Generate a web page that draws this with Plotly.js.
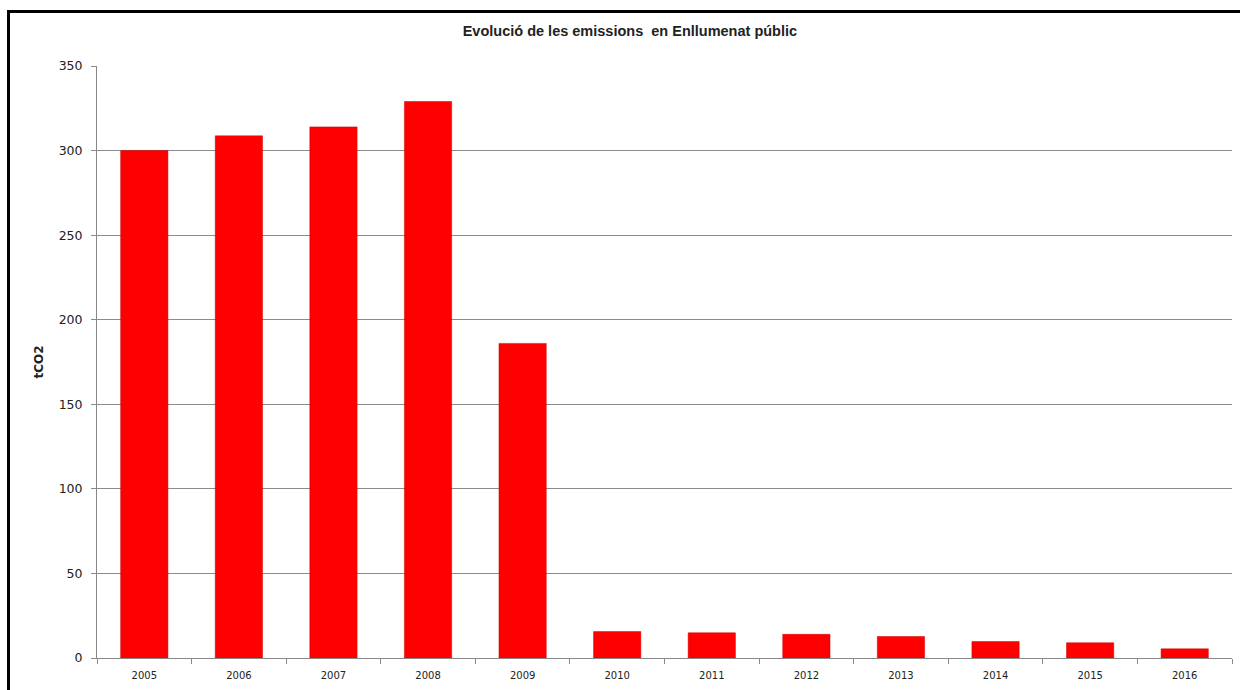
<!DOCTYPE html>
<html>
<head>
<meta charset="utf-8">
<script src="https://cdn.plot.ly/plotly-3.0.1.min.js"></script>
<style>
html,body{margin:0;padding:0;background:#fff;}
#wrap{position:relative;width:1240px;height:690px;overflow:hidden;}
#chart{position:absolute;left:0;top:0;width:1240px;height:690px;}
#frame{position:absolute;left:7px;top:10px;width:1300px;height:800px;border-top:3px solid #000;border-left:3px solid #000;pointer-events:none;}
</style>
</head>
<body>
<div id="wrap"><div id="chart"></div><div id="frame"></div></div>
<script>
const years = ["2005","2006","2007","2008","2009","2010","2011","2012","2013","2014","2015","2016"];
const emissions = [300, 308.7, 314, 329, 186, 15.6, 14.9, 14.0, 12.7, 9.7, 9.0, 5.4];
const yTicks = [0, 50, 100, 150, 200, 250, 300, 350];

const trace = {
  type: "bar",
  x: years,
  y: emissions,
  marker: {color: "#ff0000", line: {color: "#d00000", width: 0.5}},
  hoverinfo: "x+y"
};

const layout = {
  width: 1240, height: 690,
  margin: {l: 97, r: 8, t: 66, b: 31.5, pad: 0},
  paper_bgcolor: "#ffffff",
  plot_bgcolor: "#ffffff",
  bargap: 0.5,
  showlegend: false,
  title: {
    text: "<b>Evolució de les emissions  en Enllumenat públic</b>",
    font: {family: "Liberation Sans, Arial, sans-serif", size: 14.5, color: "#222"},
    x: 0.508, xanchor: "center", y: 0.955, yanchor: "middle"
  },
  xaxis: {
    type: "category",
    tickson: "boundaries",
    ticks: "outside", ticklen: 5, tickcolor: "#888",
    showline: true, linecolor: "#888", linewidth: 1,
    showgrid: false,
    ticklabelstandoff: 8,
    tickfont: {family: "DejaVu Sans, Verdana, sans-serif", size: 10, color: "#222"}
  },
  yaxis: {
    range: [0, 350],
    tickvals: yTicks,
    ticks: "outside", ticklen: 5, tickcolor: "#888",
    showline: true, linecolor: "#888", linewidth: 1,
    showgrid: true, gridcolor: "#8c8c8c", gridwidth: 1,
    zeroline: false,
    ticklabelstandoff: 6,
    tickfont: {family: "DejaVu Sans, Verdana, sans-serif", size: 12.5, color: "#222"},
    title: {text: "<b>tCO2</b>", standoff: 12,
      font: {family: "DejaVu Sans, Verdana, sans-serif", size: 12, color: "#222"}}
  }
};

Plotly.newPlot("chart", [trace], layout, {staticPlot: true, displayModeBar: false});
</script>
</body>
</html>
